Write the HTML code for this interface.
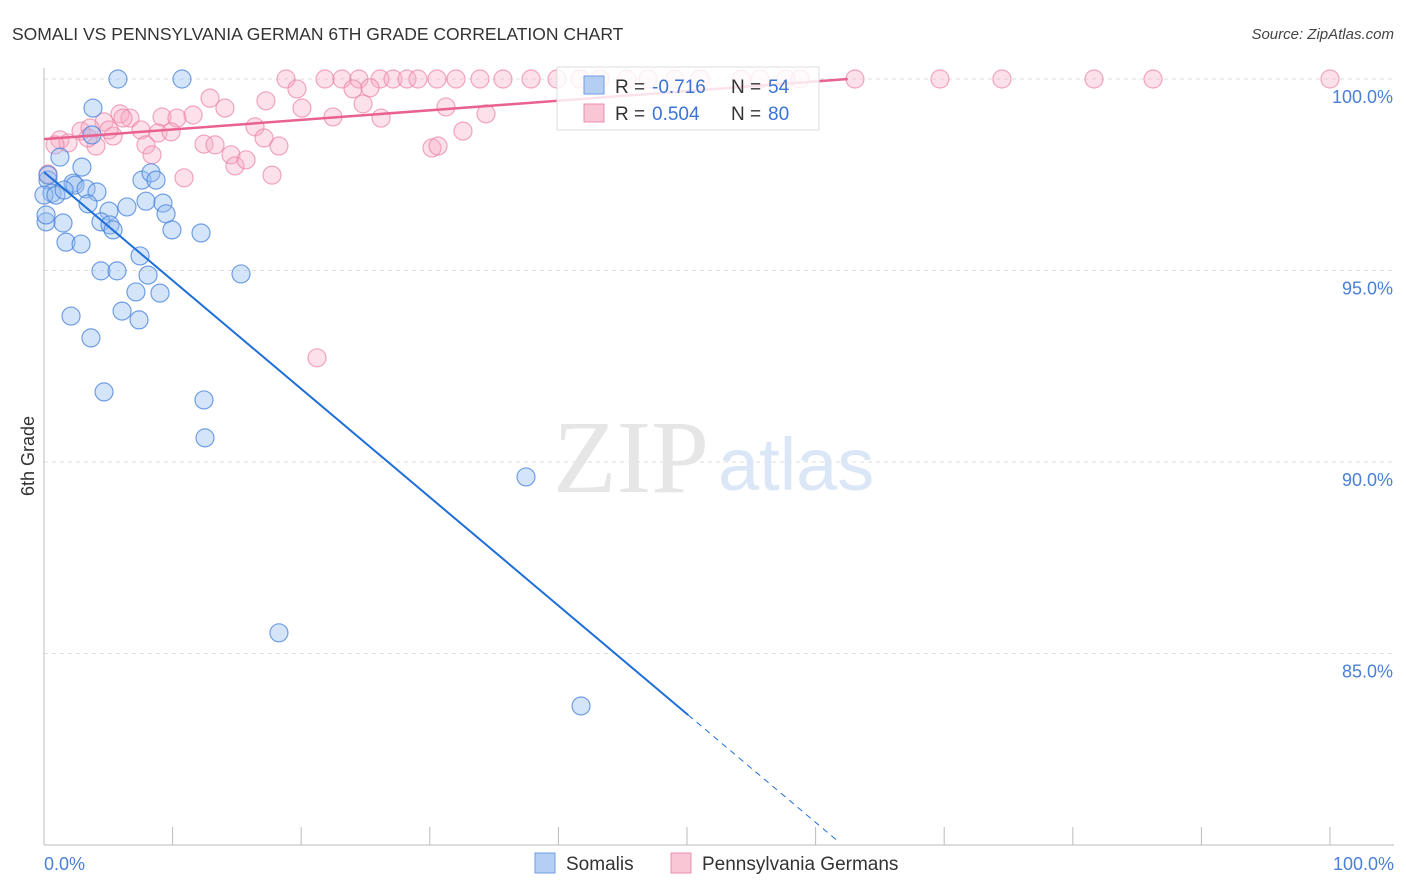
<!DOCTYPE html>
<html><head><meta charset="utf-8"><style>
body{margin:0;background:#fff;font-family:"Liberation Sans",sans-serif}
svg{display:block}
</style></head><body>
<svg id="c" width="1406" height="892"></svg>
<script>
const bluePx=[[118,79],[182,79],[93,108],[92,135],[60,157],[82,167],[48,180],[73,183],[75,185],[86,189],[97,192],[52,193],[44,195],[56,195],[46,222],[63,223],[88,204],[109,211],[127,207],[101,222],[110,225],[113,230],[142,180],[151,173],[156,180],[146,201],[163,203],[166,214],[172,230],[201,233],[66,242],[81,244],[140,256],[101,271],[117,271],[148,275],[241,274],[136,292],[160,293],[122,311],[139,320],[71,316],[91,338],[104,392],[204,400],[205,438],[526,477],[279,633],[581,706],[48,175],[64,190],[46,215]];
const pinkPx=[[286,79],[325,79],[342,79],[359,79],[380,79],[393,79],[407,79],[418,79],[437,79],[456,79],[480,79],[503,79],[531,79],[557,79],[580,79],[600,79],[627,79],[648,79],[675,79],[700,79],[741,79],[760,79],[786,79],[800,79],[855,79],[940,79],[1002,79],[1094,79],[1153,79],[1330,79],[120,114],[130,118],[162,117],[177,118],[193,115],[210,98],[225,108],[266,101],[297,89],[302,108],[333,117],[353,89],[363,104],[370,88],[381,118],[446,107],[486,114],[463,131],[432,148],[438,146],[60,140],[68,143],[81,131],[96,146],[104,122],[113,136],[141,130],[146,145],[152,155],[158,133],[171,132],[184,178],[204,144],[215,145],[231,155],[235,166],[246,160],[255,127],[264,138],[272,175],[279,146],[317,358],[48,174],[55,145],[90,128],[88,138],[123,118],[109,130]];
const somaliX=bluePx.map(p=>+((p[0]-44)/12.86).toFixed(2));
const somaliY=bluePx.map(p=>+(100-(p[1]-79)/38.3).toFixed(2));
const paGermanX=pinkPx.map(p=>+((p[0]-44)/12.86).toFixed(2));
const paGermanY=pinkPx.map(p=>+(100-(p[1]-79)/38.3).toFixed(2));
const yTicks=[100,95,90,85];
const yTickLabels=["100.0%","95.0%","90.0%","85.0%"];
const blueLine={b:97.57,m:-0.283,xEnd:50.1,xDash:61.8};
const pinkLine={b:98.43,m:0.0251,xEnd:62.5};
const X=v=>44+v*12.86, Y=v=>79+(100-v)*38.3;
const s=document.getElementById('c');const NS="http://www.w3.org/2000/svg";
function add(tag,attrs,name,txt){const e=document.createElementNS(NS,tag);for(const k in attrs)e.setAttribute(k,attrs[k]);


if(txt!=null)e.textContent=txt;s.appendChild(e);return e;}
add('text',{x:12,y:40,'font-size':17.5,fill:'#333'},'chart-title','SOMALI VS PENNSYLVANIA GERMAN 6TH GRADE CORRELATION CHART');
add('text',{x:1394,y:39,'font-size':15,fill:'#444','font-style':'italic','text-anchor':'end'},'source-label','Source: ZipAtlas.com');
yTicks.forEach((t,i)=>{add('line',{x1:44,x2:1394,y1:Y(t),y2:Y(t),stroke:'#ddd','stroke-dasharray':'4,4'},'gridline');
add('text',{x:1393,y:Y(t)+24,'font-size':18,fill:'#4a7fd6','text-anchor':'end'},'y-tick-label',yTickLabels[i]);});
add('line',{x1:44,x2:44,y1:68,y2:845,stroke:'#bbb'},'y-axis');
add('line',{x1:44,x2:1394,y1:845,y2:845,stroke:'#bbb'},'x-axis');
for(let i=0;i<=10;i++){const x=44+i*128.6;add('line',{x1:x,x2:x,y1:827,y2:845,stroke:'#bbb'},'x-tick');}
add('text',{x:44,y:870,'font-size':18,fill:'#4a7fd6'},'x-min-label','0.0%');
add('text',{x:1394,y:870,'font-size':18,fill:'#4a7fd6','text-anchor':'end'},'x-max-label','100.0%');
add('text',{x:34,y:456,'font-size':18,fill:'#333','text-anchor':'middle',transform:'rotate(-90 34 456)'},'y-axis-title','6th Grade');
add('text',{x:553,y:492,'font-size':104,fill:'#e6e6e6','font-family':'Liberation Serif,serif'},'watermark-zip','ZIP');
add('text',{x:718,y:490,'font-size':74,fill:'#dbe7f7'},'watermark-atlas','atlas');
paGermanX.forEach((x,i)=>add('circle',{cx:X(x),cy:Y(paGermanY[i]),r:9,fill:'rgba(246,170,195,0.35)',stroke:'rgba(236,130,165,0.7)','stroke-width':1.2},'pa-german-point'));
somaliX.forEach((x,i)=>add('circle',{cx:X(x),cy:Y(somaliY[i]),r:9,fill:'rgba(150,190,240,0.4)',stroke:'rgba(70,130,220,0.75)','stroke-width':1.2},'somali-point'));
add('line',{x1:X(0),y1:Y(pinkLine.b),x2:X(pinkLine.xEnd),y2:Y(pinkLine.b+pinkLine.m*pinkLine.xEnd),stroke:'#e8618f','stroke-width':2.5},'pa-german-trendline');
add('line',{x1:X(0),y1:Y(blueLine.b),x2:X(blueLine.xEnd),y2:Y(blueLine.b+blueLine.m*blueLine.xEnd),stroke:'#1f6fd8','stroke-width':2},'somali-trendline');
add('line',{x1:X(blueLine.xEnd),y1:Y(blueLine.b+blueLine.m*blueLine.xEnd),x2:X(blueLine.xDash),y2:Y(blueLine.b+blueLine.m*blueLine.xDash),stroke:'#1f6fd8','stroke-width':1,'stroke-dasharray':'6,5'},'somali-trendline-extension');
add('rect',{x:557,y:67,width:262,height:63,fill:'rgba(255,255,255,0.82)',stroke:'#ddd'},'legend-box');
add('rect',{x:584,y:76,width:20,height:18,fill:'#b5cff3',stroke:'#6f9de0'},'legend-somali-swatch');
add('rect',{x:584,y:104,width:20,height:18,fill:'#f9c6d6',stroke:'#ec8fae'},'legend-pa-swatch');
add('text',{x:615,y:93,'font-size':19,fill:'#333'},'legend-somali-r','R = ');
add('text',{x:652,y:93,'font-size':19,fill:'#3a74d4'},'legend-somali-r-value','-0.716');
add('text',{x:731,y:93,'font-size':19,fill:'#333'},'legend-somali-n','N = ');
add('text',{x:768,y:93,'font-size':19,fill:'#3a74d4'},'legend-somali-n-value','54');
add('text',{x:615,y:120,'font-size':19,fill:'#333'},'legend-pa-r','R = ');
add('text',{x:652,y:120,'font-size':19,fill:'#3a74d4'},'legend-pa-r-value','0.504');
add('text',{x:731,y:120,'font-size':19,fill:'#333'},'legend-pa-n','N = ');
add('text',{x:768,y:120,'font-size':19,fill:'#3a74d4'},'legend-pa-n-value','80');
add('rect',{x:535,y:853,width:20,height:20,fill:'#b5cff3',stroke:'#6f9de0'},'bottom-legend-somali-swatch');
add('text',{x:566,y:870,'font-size':19,fill:'#333'},'bottom-legend-somali','Somalis');
add('rect',{x:671,y:853,width:20,height:20,fill:'#f9c6d6',stroke:'#ec8fae'},'bottom-legend-pa-swatch');
add('text',{x:702,y:870,'font-size':19,fill:'#333'},'bottom-legend-pa','Pennsylvania Germans');
</script>
</body></html>
